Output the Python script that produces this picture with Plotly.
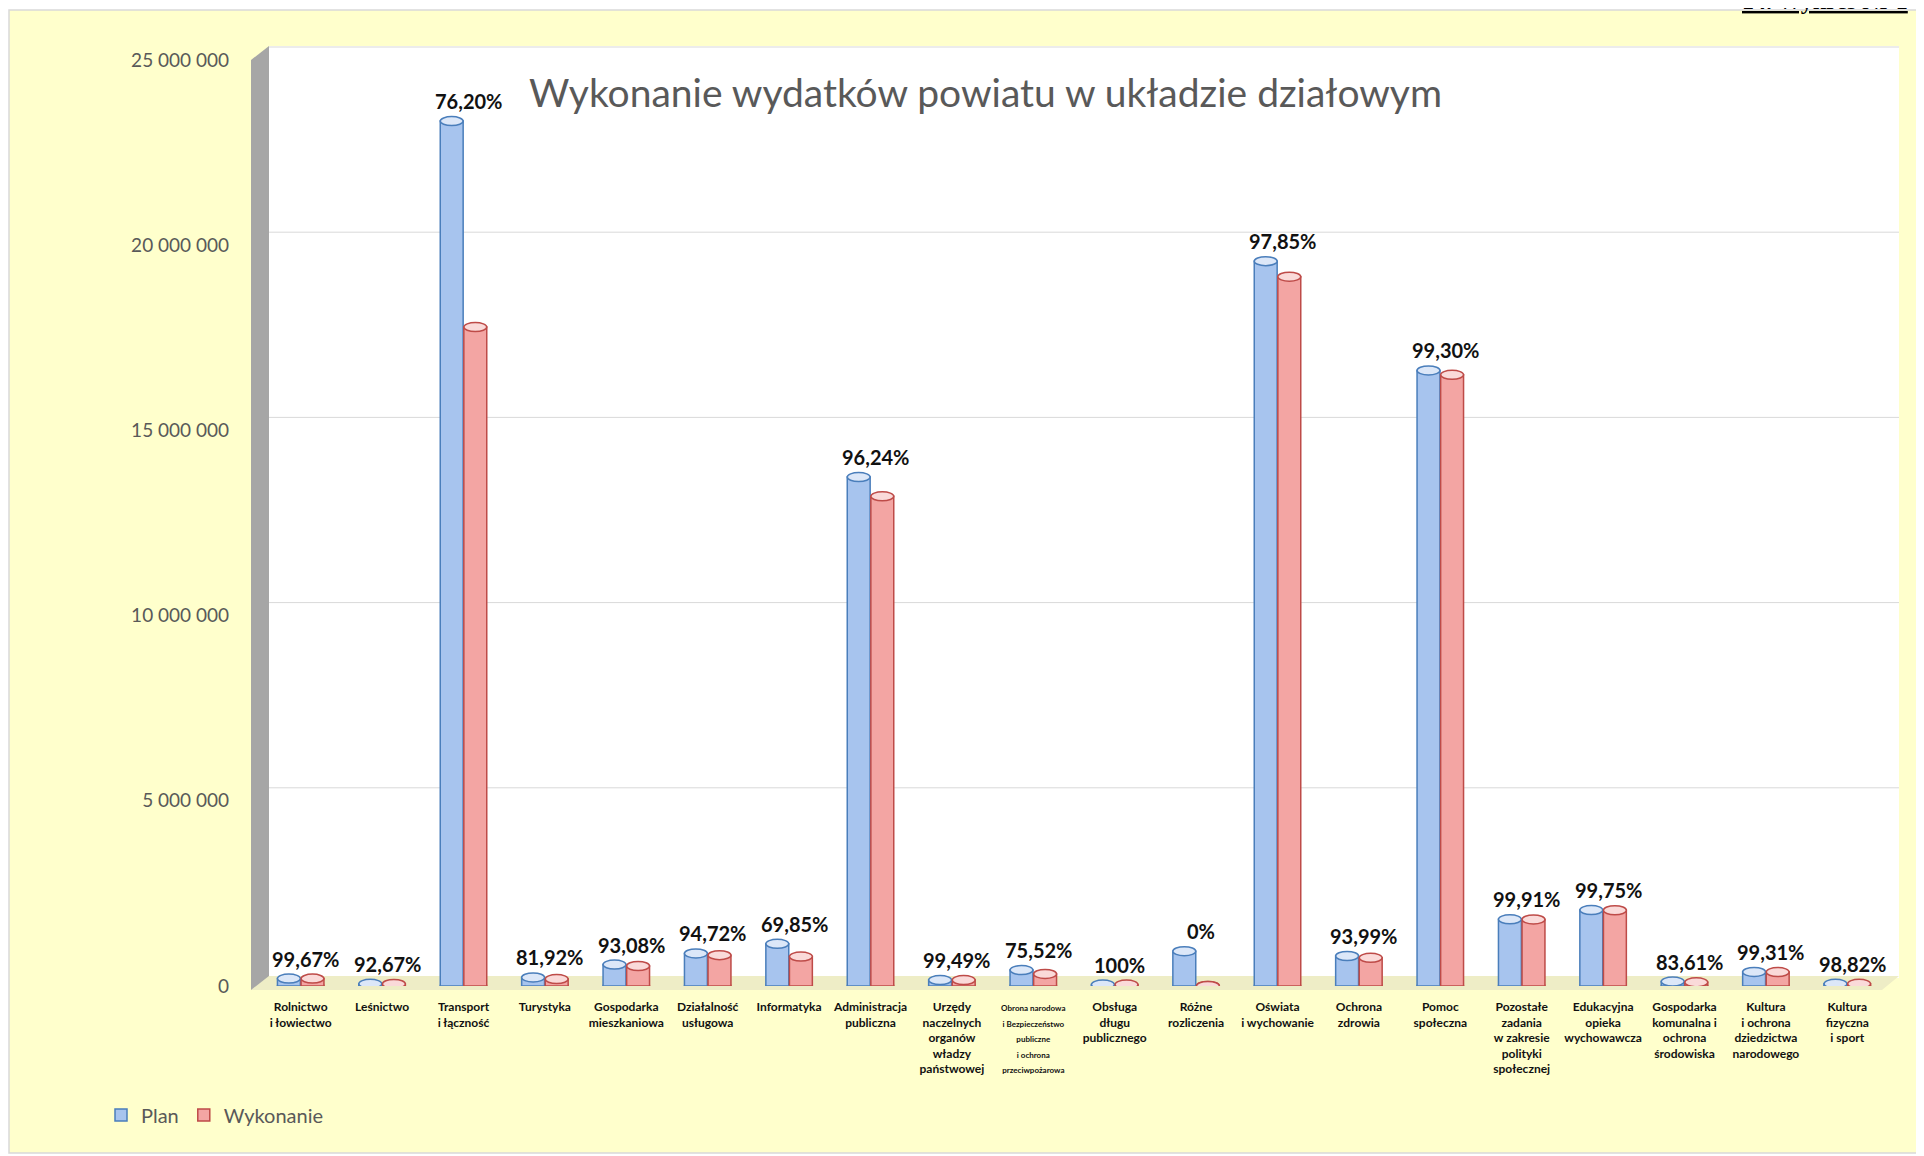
import plotly.graph_objects as go

# ---------------- data ----------------
categories = [
    "Rolnictwo<br>i łowiectwo",
    "Leśnictwo",
    "Transport<br>i łączność",
    "Turystyka",
    "Gospodarka<br>mieszkaniowa",
    "Działalność<br>usługowa",
    "Informatyka",
    "Administracja<br>publiczna",
    "Urzędy<br>naczelnych<br>organów<br>władzy<br>państwowej",
    "<span style='font-size:8px'>Obrona narodowa<br>i Bezpieczeństwo<br>publiczne<br>i ochrona<br>przeciwpożarowa</span>",
    "Obsługa<br>długu<br>publicznego",
    "Różne<br>rozliczenia",
    "Oświata<br>i wychowanie",
    "Ochrona<br>zdrowia",
    "Pomoc<br>społeczna",
    "Pozostałe<br>zadania<br>w zakresie<br>polityki<br>społecznej",
    "Edukacyjna<br>opieka<br>wychowawcza",
    "Gospodarka<br>komunalna i<br>ochrona<br>środowiska",
    "Kultura<br>i ochrona<br>dziedzictwa<br>narodowego",
    "Kultura<br>fizyczna<br>i sport",
]
plan = [200000, 60000, 23350000, 230000, 580000, 880000, 1140000, 13740000, 160000, 430000,
        40000, 940000, 19570000, 810000, 16620000, 1800000, 2050000, 120000, 380000, 60000]
wykonanie = [199300, 55600, 17790000, 188400, 540000, 833500, 796000, 13220000, 159200, 324700,
             40000, 0, 19150000, 761000, 16500000, 1798000, 2045000, 100300, 377400, 59300]
percent_labels = ["99,67%", "92,67%", "76,20%", "81,92%", "93,08%", "94,72%", "69,85%", "96,24%",
                  "99,49%", "75,52%", "100%", "0%", "97,85%", "93,99%", "99,30%", "99,91%",
                  "99,75%", "83,61%", "99,31%", "98,82%"]
y_ticks = [0, 5000000, 10000000, 15000000, 20000000, 25000000]

# ---------------- layout helpers ----------------
OFF = 8                      # page body margin
W, H = 1924 - OFF, 1156 - OFF
SL, SR, ST, SB = 260, 1888, 60, 986   # plot area in screen pixels
YMAX = 25000000
GRID_LIFT = 13               # pseudo-3D: back-wall gridlines sit a bit higher


def px(x):
    return (x - SL) / (SR - SL)


def py(y):
    return (SB - y) / (SB - ST)


FONT = "Lato"
GREY_TXT = "#595959"
BLUE_FILL, BLUE_LINE, BLUE_CAP = "#A7C4EE", "#4A7EBB", "#DCE7F8"
RED_FILL, RED_LINE, RED_CAP = "#F3A5A3", "#BE4B48", "#FADAD9"

BARGAP, GROUPGAP = 0.42, 0.03
idx = list(range(len(categories)))

fig = go.Figure()
fig.add_trace(go.Bar(
    name="Plan", x=idx, y=plan,
    marker=dict(color=BLUE_FILL, line=dict(color=BLUE_LINE, width=1.5)),
))
fig.add_trace(go.Bar(
    name="Wykonanie", x=idx, y=wykonanie,
    marker=dict(color=RED_FILL, line=dict(color=RED_LINE, width=1.5)),
))

shapes = [
    # outer yellow panel
    dict(type="rect", xref="paper", yref="paper", x0=px(9), x1=px(1940), y0=py(10), y1=py(1153),
         fillcolor="#FFFFCC", line=dict(color="#D9D9D9", width=1.5), layer="below"),
    # white back wall
    dict(type="rect", xref="paper", yref="paper", x0=px(269), x1=px(1899), y0=py(46), y1=py(978),
         fillcolor="#FFFFFF", line=dict(width=0), layer="below"),
]
# back-wall gridlines
for t in y_ticks[1:]:
    yy = t / YMAX + GRID_LIFT / (SB - ST)
    shapes.append(dict(type="line", xref="paper", yref="paper", x0=px(269), x1=px(1899),
                       y0=yy, y1=yy, line=dict(color="#D9D9D9", width=1), layer="below"))
shapes += [
    # floor
    dict(type="path", xref="paper", yref="paper",
         path=f"M {px(269)},{py(976)} L {px(1899)},{py(976)} L {px(1882)},{py(990)} L {px(251)},{py(990)} Z",
         fillcolor="#EEEDC6", line=dict(width=0), layer="below"),
    # grey side wall
    dict(type="path", xref="paper", yref="paper",
         path=f"M {px(251)},{py(60)} L {px(269)},{py(46)} L {px(269)},{py(976)} L {px(251)},{py(990)} Z",
         fillcolor="#A6A6A6", line=dict(width=0), layer="below"),
]

# cylinder caps (ellipses at bar tops / bottoms), positioned through the axis scales
slot = (1 - BARGAP) / 2
half_w = slot * (1 - GROUPGAP) / 2
cap_h = YMAX * 9 / (SB - ST)
for series, off, fill_c, line_c, cap_c in ((plan, -slot / 2, BLUE_FILL, BLUE_LINE, BLUE_CAP),
                                           (wykonanie, slot / 2, RED_FILL, RED_LINE, RED_CAP)):
    for i, v in enumerate(series):
        c = i + off
        shapes.append(dict(type="circle", xref="x", yref="y", x0=c - half_w, x1=c + half_w,
                           y0=-cap_h / 2, y1=cap_h / 2, fillcolor=fill_c,
                           line=dict(color=line_c, width=1.5), layer="between"))
        shapes.append(dict(type="circle", xref="x", yref="y", x0=c - half_w, x1=c + half_w,
                           y0=v - cap_h / 2, y1=v + cap_h / 2, fillcolor=cap_c,
                           line=dict(color=line_c, width=1.5), layer="above"))

annotations = [
    dict(text="Wykonanie wydatków powiatu w układzie działowym", xref="paper", yref="paper",
         x=px(985), y=py(92), xanchor="center", yanchor="middle", showarrow=False,
         font=dict(family=FONT, size=39, color=GREY_TXT)),
    dict(text="<b><u>14. Wykres Nr 1</u></b>", xref="paper", yref="paper",
         x=px(1740), y=py(16), xanchor="left", yanchor="bottom", showarrow=False,
         font=dict(family="Liberation Serif", size=24, color="#000000")),
]
# percentage labels above each category's tallest bar
for i, (a, b, lab) in enumerate(zip(plan, wykonanie, percent_labels)):
    annotations.append(dict(x=i, y=max(a, b), xref="x", yref="y", text=f"<b>{lab}</b>",
                            showarrow=False, xanchor="center", yanchor="bottom",
                            yshift=6, xshift=5,
                            font=dict(family=FONT, size=20, color="#111111")))

fig.update_layout(
    width=W, height=H,
    margin=dict(l=SL - OFF, r=W - (SR - OFF), t=ST - OFF, b=H - (SB - OFF), autoexpand=False),
    paper_bgcolor="#FFFFFF", plot_bgcolor="rgba(0,0,0,0)",
    separators=", ",
    barmode="group", bargap=BARGAP, bargroupgap=GROUPGAP,
    shapes=shapes, annotations=annotations,
    showlegend=True,
    legend=dict(orientation="h", x=px(101), y=py(1115), xanchor="left", yanchor="middle",
                font=dict(family=FONT, size=20, color=GREY_TXT), bgcolor="rgba(0,0,0,0)",
                itemwidth=30, traceorder="normal"),
)
fig.update_yaxes(
    range=[0, YMAX], tickvals=y_ticks, tickformat=",d",
    showgrid=False, zeroline=False,
    showline=False, ticks="", ticklabelstandoff=30,
    tickfont=dict(family=FONT, size=19, color=GREY_TXT),
)
fig.update_xaxes(
    range=[-0.5, len(categories) - 0.5],
    tickvals=idx, ticktext=categories,
    showgrid=False, showline=False, ticks="", ticklabelstandoff=12,
    tickangle=0,
    tickfont=dict(family=FONT, size=12, color="#111111", weight="bold"),
)

fig.write_html("out.html")
